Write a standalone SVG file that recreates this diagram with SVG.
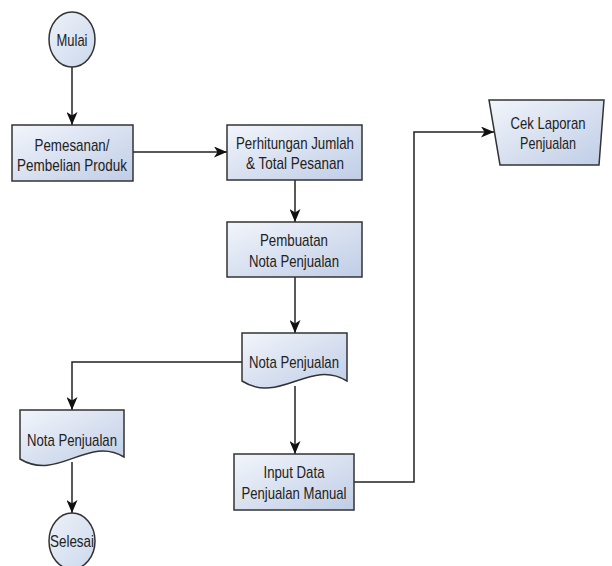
<svg xmlns="http://www.w3.org/2000/svg" width="612" height="566" viewBox="0 0 612 566">
<defs>
<linearGradient id="g" x1="0" y1="0" x2="1" y2="1">
<stop offset="0" stop-color="#f2f5fb"/>
<stop offset="1" stop-color="#bfcde6"/>
</linearGradient>
<linearGradient id="ge" x1="0" y1="0" x2="1" y2="1">
<stop offset="0" stop-color="#eef2f9"/>
<stop offset="1" stop-color="#cbd8ec"/>
</linearGradient>
<marker id="ah" markerUnits="userSpaceOnUse" markerWidth="13" markerHeight="11" refX="13" refY="5.5" orient="auto">
<path d="M0,0 L13,5.5 L0,11 L3.5,5.5 Z" fill="#111"/>
</marker>
</defs>
<style>
.s{fill:url(#g);stroke:#333;stroke-width:1.5}
.e{fill:url(#ge);stroke:#333;stroke-width:1.5}
.c{fill:none;stroke:#222;stroke-width:1.5}
.a{marker-end:url(#ah)}
text{font-family:"Liberation Sans Narrow","Liberation Sans",Arial,sans-serif;font-size:17px;fill:#222;text-anchor:middle}
</style>
<rect width="612" height="566" fill="#fff"/>
<g id="connectors">
<line class="c a" x1="72" y1="67" x2="72" y2="125"/>
<line class="c a" x1="133" y1="152" x2="227" y2="152"/>
<line class="c a" x1="295" y1="180" x2="295" y2="222"/>
<line class="c a" x1="295" y1="277" x2="295" y2="333"/>
<polyline class="c a" points="242,362 72,362 72,410"/>
<line class="c a" x1="72" y1="462" x2="72" y2="513"/>
<line class="c a" x1="295" y1="386" x2="295" y2="454"/>
<polyline class="c a" points="354,482 414,482 414,132 494,132"/>
</g>
<g id="mulai">
<ellipse class="e" cx="72" cy="39.5" rx="23" ry="27.5"/>
<text x="72" y="46" textLength="31" lengthAdjust="spacingAndGlyphs">Mulai</text>
</g>
<g id="pemesanan">
<rect class="s" x="12" y="125" width="121" height="56"/>
<text x="72" y="151" textLength="75" lengthAdjust="spacingAndGlyphs">Pemesanan/</text>
<text x="72" y="171" textLength="110" lengthAdjust="spacingAndGlyphs">Pembelian Produk</text>
</g>
<g id="perhitungan">
<rect class="s" x="227" y="125" width="135" height="55"/>
<text x="295" y="149" textLength="118" lengthAdjust="spacingAndGlyphs">Perhitungan Jumlah</text>
<text x="295" y="169" textLength="98" lengthAdjust="spacingAndGlyphs">&amp; Total Pesanan</text>
</g>
<g id="pembuatan">
<rect class="s" x="227" y="222" width="135" height="55"/>
<text x="294" y="246" textLength="68" lengthAdjust="spacingAndGlyphs">Pembuatan</text>
<text x="294" y="267" textLength="90" lengthAdjust="spacingAndGlyphs">Nota Penjualan</text>
</g>
<g id="nota1">
<path class="s" d="M242,333 H347 V381 C310,358 280,405 242,381 Z"/>
<text x="294" y="368" textLength="90" lengthAdjust="spacingAndGlyphs">Nota Penjualan</text>
</g>
<g id="nota2">
<path class="s" d="M20,410 H124 V457 C88,435 58,482 20,459 Z"/>
<text x="72" y="446" textLength="90" lengthAdjust="spacingAndGlyphs">Nota Penjualan</text>
</g>
<g id="selesai">
<ellipse class="e" cx="72" cy="541" rx="23" ry="28"/>
<text x="72" y="547" textLength="44" lengthAdjust="spacingAndGlyphs">Selesai</text>
</g>
<g id="input">
<rect class="s" x="234" y="454" width="120" height="56"/>
<text x="294" y="478" textLength="61" lengthAdjust="spacingAndGlyphs">Input Data</text>
<text x="294" y="499" textLength="105" lengthAdjust="spacingAndGlyphs">Penjualan Manual</text>
</g>
<g id="cek">
<path class="s" d="M489,100 H604 L599,165 H500 Z"/>
<text x="548" y="129" textLength="75" lengthAdjust="spacingAndGlyphs">Cek Laporan</text>
<text x="548" y="149" textLength="56" lengthAdjust="spacingAndGlyphs">Penjualan</text>
</g>
</svg>
